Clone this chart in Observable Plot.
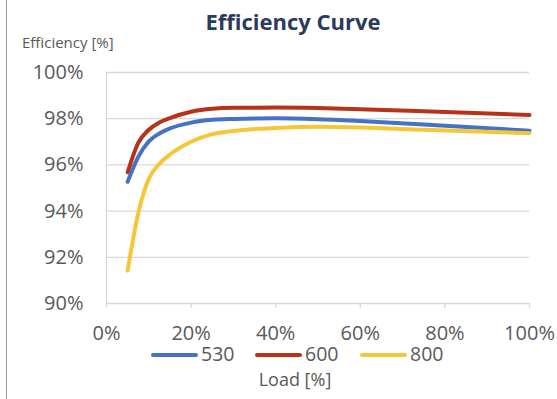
<!DOCTYPE html>
<html>
<head>
<meta charset="utf-8">
<script src="https://cdn.jsdelivr.net/npm/d3@7"></script>
<script src="https://cdn.jsdelivr.net/npm/@observablehq/plot@0.6"></script>
<style>
  html, body { margin: 0; padding: 0; background: #fff; }
  #wrap { position: relative; width: 557px; height: 399px; overflow: hidden; font-family: "Open Sans", sans-serif; }
  #border { position: absolute; left: 6px; top: 0; width: 1px; height: 399px; background: #9a9a9a; }
  #title { position: absolute; left: 0; width: 586px; top: 6px; text-align: center; font-weight: bold; font-size: 22px; color: #2c3a5c; }
  #ylab { position: absolute; left: 22px; top: 32px; font-size: 15px; color: #595959; }
  #xlab { position: absolute; left: 0; width: 590px; top: 367px; text-align: center; font-size: 18px; color: #595959; }
  #legend { position: absolute; top: 344px; left: 0; width: 557px; height: 20px; font-size: 19.5px; color: #595959; }
  .item { position: absolute; top: 0; height: 20px; }
  .sw { position: absolute; top: 9px; width: 47px; height: 4px; border-radius: 2px; }
  .lt { position: absolute; left: 50px; top: 0; line-height: 20px; }
  svg { position: absolute; left: 0; top: 0; }
</style>
</head>
<body>
<div id="wrap">
  <div id="border"></div>
  <div id="title">Efficiency Curve</div>
  <div id="ylab">Efficiency [%]</div>
  <div id="legend"></div>
  <div id="xlab">Load [%]</div>
</div>
<script>
const load = [5, 7.5, 10, 12.5, 15, 20, 25, 30, 40, 50, 60, 75, 100];
const eff530 = [95.27, 96.35, 97.02, 97.36, 97.58, 97.83, 97.95, 97.99, 98.02, 97.98, 97.90, 97.75, 97.48];
const eff600 = [95.68, 96.95, 97.52, 97.84, 98.03, 98.30, 98.43, 98.47, 98.48, 98.46, 98.41, 98.32, 98.16];
const eff800 = [91.43, 93.90, 95.40, 96.05, 96.45, 97.00, 97.33, 97.47, 97.60, 97.65, 97.62, 97.52, 97.37];
const seriesNames = ["530", "600", "800"];
const seriesColors = ["#4472c4", "#b7321b", "#f5c638"];
const xTicks = [0, 20, 40, 60, 80, 100];
const yTicks = [90, 92, 94, 96, 98, 100];

const allSeries = [eff530, eff600, eff800];
const data = [];
seriesNames.forEach((name, i) => {
  load.forEach((l, j) => data.push({series: name, load: l, eff: allSeries[i][j]}));
});

const chart = Plot.plot({
  width: 557,
  height: 399,
  marginTop: 72,
  marginLeft: 106,
  marginRight: 28,
  marginBottom: 96,
  style: {fontFamily: "Open Sans, sans-serif", fontSize: "20px", color: "#595959", background: "transparent", overflow: "visible"},
  x: {domain: [0, 100], ticks: xTicks, tickFormat: d => d + "%", label: null},
  y: {domain: [90, 100], ticks: yTicks, tickFormat: d => d + "%", label: null},
  color: {domain: seriesNames, range: seriesColors},
  marks: [
    Plot.ruleY(yTicks.filter(d => d > 90), {stroke: "#d9d9d9", strokeWidth: 1.3, strokeOpacity: 1}),
    Plot.ruleY([90], {stroke: "#d9d9d9", strokeWidth: 1.3}),
    Plot.ruleX([0], {stroke: "#d9d9d9", strokeWidth: 1.3}),
    Plot.axisX({ticks: xTicks, tickFormat: d => d + "%", tickSize: 5, tickPadding: 17, stroke: "#d9d9d9", strokeWidth: 1.3, label: null, fill: "#595959"}),
    Plot.axisY({ticks: yTicks, tickFormat: d => d + "%", tickSize: 0, tickPadding: 23, label: null, fill: "#595959"}),
    Plot.line(data, {x: "load", y: "eff", z: "series", stroke: "series", strokeWidth: 4, curve: "monotone-x"})
  ]
});
document.getElementById("wrap").appendChild(chart);

const legend = document.getElementById("legend");
const legendX = [151, 255, 360];
seriesNames.forEach((name, i) => {
  const it = document.createElement("div");
  it.className = "item";
  it.style.left = legendX[i] + "px";
  it.innerHTML = `<div class="sw" style="background:${seriesColors[i]}"></div><div class="lt">${name}</div>`;
  legend.appendChild(it);
});
</script>
</body>
</html>
